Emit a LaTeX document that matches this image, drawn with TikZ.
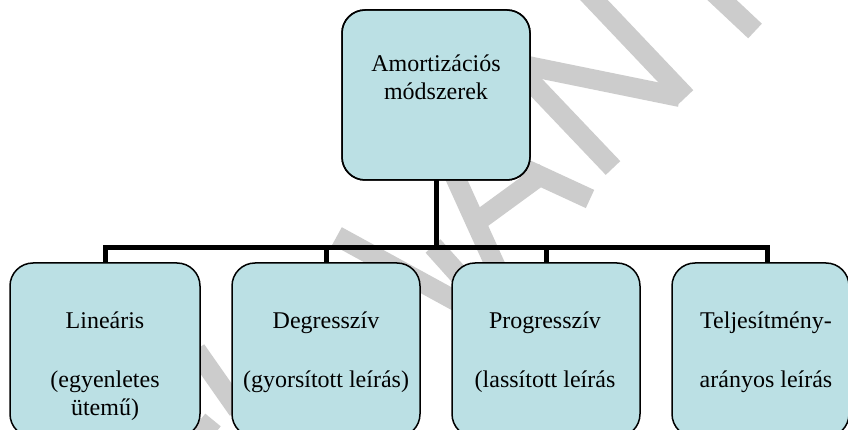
\documentclass[tikz,border=0pt]{standalone}
\usepackage{fontspec}
\setmainfont{Liberation Serif}
\definecolor{boxfill}{RGB}{187,224,228}
\definecolor{wmgray}{RGB}{204,204,204}
\begin{document}
\begin{tikzpicture}[x=1pt,y=-1pt,
  box/.style={draw=black, line width=1.5pt, fill=boxfill, rounded corners=23pt,
              inner sep=0pt, outer sep=0pt},
  lbl/.style={anchor=base, inner sep=0pt, font=\fontsize{24}{28}\selectfont},
  conn/.style={line width=5pt, black},
  wm/.style={line width=20pt, wmgray, line cap=butt}]
\useasboundingbox (0,0) rectangle (848,430);
\fill[white] (0,0) rectangle (848,430);
\clip (0,0) rectangle (848,430);

% faint watermark strokes (behind everything)
\draw[wm] (556,-40) -- (686,97);
\draw[wm] (518,64) -- (680,97);
\draw[wm] (515,65) -- (613,168);
\draw[wm] (690,-30) -- (755,31);
\draw[wm] (432,126) -- (590,199);
\draw[wm] (432,126) -- (500,276);
\draw[wm] (482,218) -- (545,172);
\draw[wm] (337,236) -- (465,306);
\draw[wm] (433,246) -- (468,285);
\draw[wm] (196,350) -- (238,410);
\draw[wm] (190,448) -- (213,420);

% boxes
\node[box, minimum width=188pt, minimum height=170pt] (top) at (436,95) {};
\node[box, minimum width=190pt, minimum height=174pt] (b1) at (105,350) {};
\node[box, minimum width=188pt, minimum height=174pt] (b2) at (326,350) {};
\node[box, minimum width=188pt, minimum height=174pt] (b3) at (546,350) {};
\node[box, minimum width=177pt, minimum height=174pt] (b4) at (760.5,350) {};

% connector coordinates
\coordinate (hub) at (436,247.5);
\coordinate (busL) at (105,247.5);
\coordinate (busR) at (767,247.5);
\coordinate (d4) at (767,263);

% connectors
\draw[conn] (top.south) -- (hub);
\draw[conn, line cap=rect] (busL) -- (busR);
\draw[conn] (busL) -- (b1.north);
\draw[conn] (b2.north |- hub) -- (b2.north);
\draw[conn] (b3.north |- hub) -- (b3.north);
\draw[conn] (busR) -- (d4);

% redraw box borders over connector ends
\draw[line width=1.5pt, rounded corners=23pt] (top.north west) rectangle (top.south east);

% texts
\node[lbl] (t0a) at (436,71.7) {Amortizációs};
\node[lbl] (t0b) at (436,100) {módszerek};
\node[lbl] (t1a) at (105,328.3) {Lineáris};
\node[lbl] (t1b) at (105,387.5) {(egyenletes};
\node[lbl] (t1c) at (105,415.5) {ütemű)};
\node[lbl] (t2a) at (326,328.3) {Degresszív};
\node[lbl] (t2b) at (326,387.3) {(gyorsított leírás)};
\node[lbl] (t3a) at (545,328.3) {Progresszív};
\node[lbl] (t3b) at (545,387) {(lassított leírás};
\node[lbl] (t4a) at (766,328.3) {Teljesítmény-};
\node[lbl] (t4b) at (766,387) {arányos leírás};
\end{tikzpicture}
\end{document}
